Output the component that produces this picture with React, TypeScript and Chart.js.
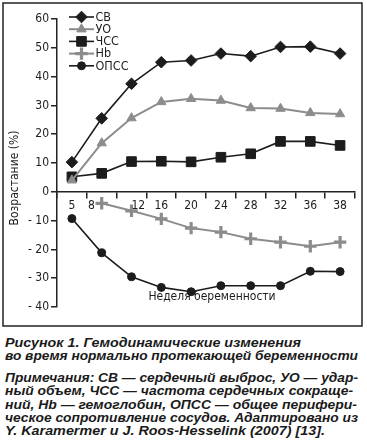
import React, { useEffect, useLayoutEffect, useRef } from "react";
import { Chart, registerables } from "chart.js";

Chart.register(...registerables);

const weeks = ["5", "8", "12", "16", "20", "24", "28", "32", "36", "38"];
const cbValues = [10.3, 25.5, 37.5, 45, 45.6, 48, 47.1, 50.3, 50.4, 48];
const uoValues = [4, 16.9, 25.6, 31.2, 32.3, 31.7, 29.1, 28.9, 27.4, 27];
const hrValues = [5.2, 6.4, 10.5, 10.6, 10.4, 12, 13.2, 17.5, 17.5, 16.1];
const hbValues: (number | null)[] = [null, -4, -6.6, -9.4, -12.6, -14, -16.3, -17.5, -18.9, -17.5];
const opssValues = [-9.3, -21.2, -29.5, -33.2, -34.7, -32.6, -32.6, -32.6, -27.6, -27.7];
const seriesNames = ["СВ", "УО", "ЧСС", "Hb", "ОПСС"];
const yTickValues = [60, 50, 40, 30, 20, 10, 0, -10, -20, -30, -40];
const xTitle = "Неделя беременности";
const yTitle = "Возрастание (%)";
const captionTexts = [
  "Рисунок 1. Гемодинамические изменения",
  "во время нормально протекающей беременности",
  "Примечания: СВ — сердечный выброс, УО — удар-",
  "ный объем, ЧСС — частота сердечных сокраще-",
  "ний, Hb — гемоглобин, ОПСС — общее перифери-",
  "ческое сопротивление сосудов. Адаптировано из",
  "Y. Karamermer и J. Roos-Hesselink (2007) [13].",
];

const NARROW = '"Liberation Sans Narrow", "Arial Narrow", "DejaVu Sans Condensed", sans-serif';
const BLACK = "#1c1c1c";
const GRAY = "#8c8c8c";

type Style = { shape: string; r: number; color: string; line: number; pbw: number };
const styles: Style[] = [
  { shape: "diamond", r: 5.8, color: BLACK, line: 1.6, pbw: 1 },
  { shape: "triangle", r: 5.4, color: GRAY, line: 2, pbw: 1 },
  { shape: "square", r: 6.8, color: BLACK, line: 1.6, pbw: 1 },
  { shape: "cross", r: 6.2, color: GRAY, line: 2, pbw: 3.2 },
  { shape: "circle", r: 4, color: BLACK, line: 1.6, pbw: 1 },
];
const toPointStyle = (s: string) =>
  s === "diamond" ? "rectRot" : s === "square" ? "rect" : s;

function drawMarker(ctx: CanvasRenderingContext2D, st: Style, x: number, y: number) {
  ctx.save();
  ctx.fillStyle = st.color;
  ctx.strokeStyle = st.color;
  ctx.lineWidth = st.pbw;
  const r = st.r;
  ctx.beginPath();
  if (st.shape === "diamond") {
    ctx.moveTo(x - r, y); ctx.lineTo(x, y - r); ctx.lineTo(x + r, y); ctx.lineTo(x, y + r); ctx.closePath();
    ctx.fill(); ctx.stroke();
  } else if (st.shape === "square") {
    const h = r * Math.SQRT1_2;
    ctx.rect(x - h, y - h, 2 * h, 2 * h); ctx.fill(); ctx.stroke();
  } else if (st.shape === "triangle") {
    for (let k = 0; k < 3; k++) {
      const a = (k * 2 * Math.PI) / 3;
      const px = x + Math.sin(a) * r, py = y - Math.cos(a) * r;
      k === 0 ? ctx.moveTo(px, py) : ctx.lineTo(px, py);
    }
    ctx.closePath(); ctx.fill(); ctx.stroke();
  } else if (st.shape === "cross") {
    ctx.moveTo(x - r, y); ctx.lineTo(x + r, y); ctx.moveTo(x, y - r); ctx.lineTo(x, y + r); ctx.stroke();
  } else {
    ctx.arc(x, y, r, 0, Math.PI * 2); ctx.fill(); ctx.stroke();
  }
  ctx.restore();
}

const decor = {
  id: "decor",
  afterDraw(chart: any) {
    const ctx: CanvasRenderingContext2D = chart.ctx;
    ctx.save();
    ctx.strokeStyle = "#222";
    ctx.lineWidth = 1.5;
    ctx.strokeRect(3, 3, 359, 323);
    ctx.fillStyle = BLACK;
    ctx.font = `12px ${NARROW}`;
    ctx.textBaseline = "middle";
    ctx.textAlign = "center";
    ctx.fillText(xTitle, 212, 297);
    ctx.save();
    ctx.translate(15, 178);
    ctx.rotate(-Math.PI / 2);
    ctx.fillText(yTitle, 0, 0);
    ctx.restore();
    // legend
    ctx.textAlign = "left";
    ctx.font = `12.5px ${NARROW}`;
    seriesNames.forEach((name, i) => {
      const st = styles[i];
      const y = 17 + i * 12.2;
      ctx.strokeStyle = st.color;
      ctx.lineWidth = st.line;
      ctx.beginPath();
      ctx.moveTo(69, y);
      ctx.lineTo(94, y);
      ctx.stroke();
      drawMarker(ctx, st, 81.5, y);
      ctx.fillStyle = BLACK;
      ctx.fillText(name, 95.5, y + 0.5);
    });
    ctx.restore();
  },
};

const allSeries = [cbValues, uoValues, hrValues, hbValues, opssValues];

function ChartBox() {
  const ref = useRef<HTMLCanvasElement>(null);
  useEffect(() => {
    if (!ref.current) return;
    const chart = new Chart(ref.current, {
      type: "line",
      data: {
        labels: weeks,
        datasets: allSeries.map((vals, i) => ({
          label: seriesNames[i],
          data: vals,
          borderColor: styles[i].color,
          backgroundColor: styles[i].color,
          borderWidth: styles[i].line,
          pointStyle: toPointStyle(styles[i].shape) as any,
          pointRadius: styles[i].r,
          pointBorderWidth: styles[i].pbw,
          pointBackgroundColor: styles[i].color,
          pointBorderColor: styles[i].color,
          tension: 0,
          spanGaps: false,
        })),
      },
      options: {
        animation: false,
        responsive: false,
        layout: { padding: { left: 0, right: 12, top: 19, bottom: 23 } },
        plugins: { legend: { display: false }, tooltip: { enabled: false } },
        scales: {
          x: {
            type: "category",
            position: { y: 0 } as any,
            offset: true,
            grid: { offset: true, drawOnChartArea: false, color: "#222", lineWidth: 1.5, tickLength: 6 },
            border: { color: "#222", width: 1.5 },
            ticks: {
              color: BLACK,
              padding: 1,
              maxRotation: 0,
              autoSkip: false,
              font: { family: NARROW, size: 12 },
              callback: (v: any, i: number) => {
                const s = weeks[i];
                if (i === 1) return s + "\u2007\u2007\u2007";
                if (i === 2) return "\u2007\u2007" + s;
                return s;
              },
            },
          },
          y: {
            min: -40,
            max: 60,
            afterFit: (s: any) => { s.width = 57; },
            afterBuildTicks: (s: any) => { s.ticks = yTickValues.map((v) => ({ value: v })); },
            grid: { drawOnChartArea: false, color: "#222", lineWidth: 1.5, tickLength: 6 },
            border: { color: "#222", width: 1.5 },
            ticks: {
              color: BLACK,
              padding: 2,
              font: { family: NARROW, size: 12 },
              callback: (v: any) => (Number(v) < 0 ? "- " + Math.abs(Number(v)) : String(v)),
            },
          },
        },
      },
      plugins: [decor],
    });
    return () => chart.destroy();
  }, []);
  return <canvas ref={ref} width={367} height={330} style={{ position: "absolute", left: 0, top: 0, width: 367, height: 330 }} />;
}

const captionPos = [
  { y: 342, w: 296 },
  { y: 355, w: 353 },
  { y: 377, w: 353 },
  { y: 390, w: 348 },
  { y: 404, w: 352 },
  { y: 417, w: 353 },
  { y: 430, w: 320 },
];

export default function App() {
  const spans = useRef<(HTMLSpanElement | null)[]>([]);
  useLayoutEffect(() => {
    spans.current.forEach((el, i) => {
      if (!el) return;
      el.style.transform = "none";
      const w = el.getBoundingClientRect().width;
      if (w > 0) el.style.transform = `scaleX(${captionPos[i].w / w})`;
    });
  }, []);
  return (
    <div style={{ position: "absolute", left: 0, top: 0, width: 367, height: 448, background: "#fff" }}>
      <ChartBox />
      {captionTexts.map((t, i) => (
        <span
          key={i}
          ref={(el) => { spans.current[i] = el; }}
          style={{
            position: "absolute",
            left: 5,
            top: captionPos[i].y - 7,
            lineHeight: "14px",
            whiteSpace: "nowrap",
            display: "inline-block",
            transformOrigin: "left center",
            font: 'italic bold 13.5px "Liberation Sans", Arial, sans-serif',
            color: "#1a1a1a",
          }}
        >
          {t}
        </span>
      ))}
    </div>
  );
}
